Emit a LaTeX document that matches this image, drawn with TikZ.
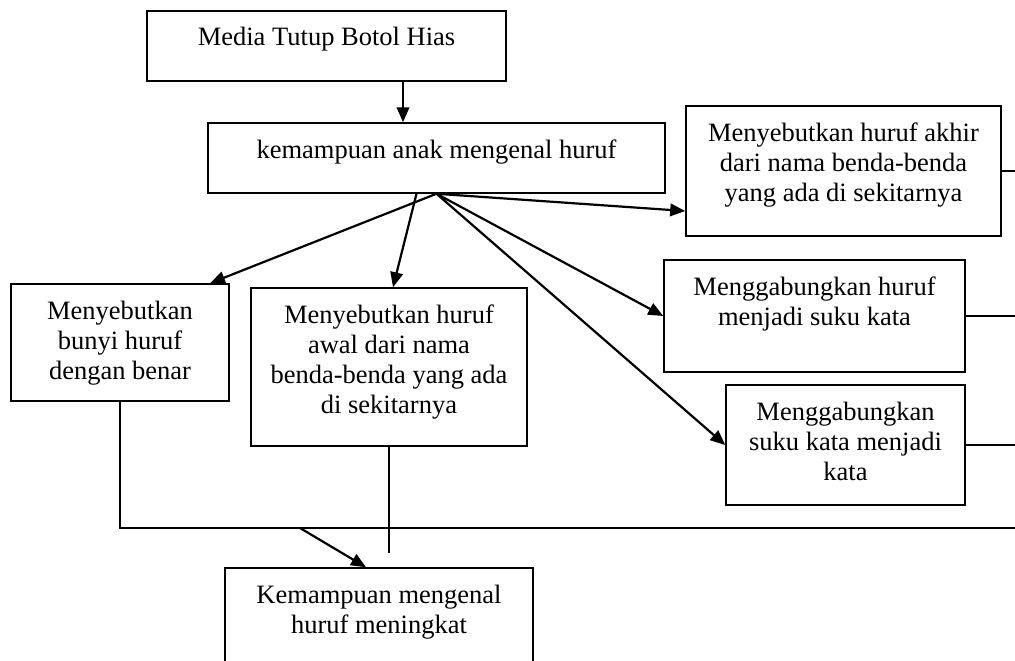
\documentclass[tikz,border=0pt]{standalone}
\usepackage{fontspec}
\setmainfont{Liberation Serif}
\usepackage{tikz}
\usetikzlibrary{arrows.meta}
\newcommand{\boxtext}[3]{\parbox[c][#2][t]{#1}{\centering\rule{0pt}{35pt}#3}}

\begin{document}
\begin{tikzpicture}[x=1pt, y=-1pt,
    every node/.style = {shape=rectangle, draw, line width=1.5pt, inner sep=0pt,
    font=\fontsize{26.5}{30}\selectfont},
    arr/.style = {line width=2.2pt, -{Triangle[length=15pt,width=12.5pt]}},
    link/.style = {line width=1.4pt}]
    \useasboundingbox (0,0) rectangle (1015,661);
    \clip (0,0) rectangle (1015,661);
    \node (media) at (326.5,46) {\boxtext{359pt}{70pt}{Media Tutup Botol Hias}};
    \node (kemampuan) at (436.5,158) {\boxtext{457pt}{70pt}{kemampuan anak mengenal huruf}};
    \node (bunyi) at (120,342.5) {\boxtext{218pt}{117pt}{Menyebutkan\\ bunyi huruf\\ dengan benar}};
    \node (awal) at (389,367) {\boxtext{276pt}{158pt}{Menyebutkan huruf\\ awal dari nama\\ benda-benda yang ada\\ di sekitarnya}};
    \node (akhir) at (843.5,171) {\boxtext{315pt}{130pt}{Menyebutkan huruf akhir\\ dari nama benda-benda\\ yang ada di sekitarnya}};
    \node (suku) at (814.5,316) {\boxtext{301pt}{112pt}{Menggabungkan huruf\\ menjadi suku kata}};
    \node (kata) at (845.5,445) {\boxtext{239pt}{120pt}{Menggabungkan\\ suku kata menjadi\\ kata}};
    \node (hasil) at (379,629) {\boxtext{308pt}{122pt}{Kemampuan mengenal\\ huruf meningkat}};
    \coordinate (tepi) at (1015,528);
    \coordinate (ujung) at (389,553);
    \coordinate (turun) at (300,528);
    \draw[arr] ([xshift=76.5pt]media.south) -- ([xshift=76.5pt]media.south |- kemampuan.north);
    \draw[arr] (kemampuan.south) -- ([xshift=90pt]bunyi.north);
    \draw[arr] ([xshift=-20pt]kemampuan.south) -- ([xshift=4pt]awal.north);
    \draw[arr] (kemampuan.south) -- ([yshift=-40pt]akhir.west);
    \draw[arr] (kemampuan.south) -- (suku.west);
    \draw[arr] (kemampuan.south) -- (kata.west);
    \draw[link] (akhir.east) -- (akhir.east -| tepi);
    \draw[link] (suku.east) -- (suku.east -| tepi);
    \draw[link] (kata.east) -- (kata.east -| tepi);
    \draw[link] (bunyi.south) |- (tepi);
    \draw[link] (awal.south) -- (awal.south |- ujung);
    \draw[arr] (turun) -- ([xshift=-13pt]hasil.north);
\end{tikzpicture}
\end{document}
